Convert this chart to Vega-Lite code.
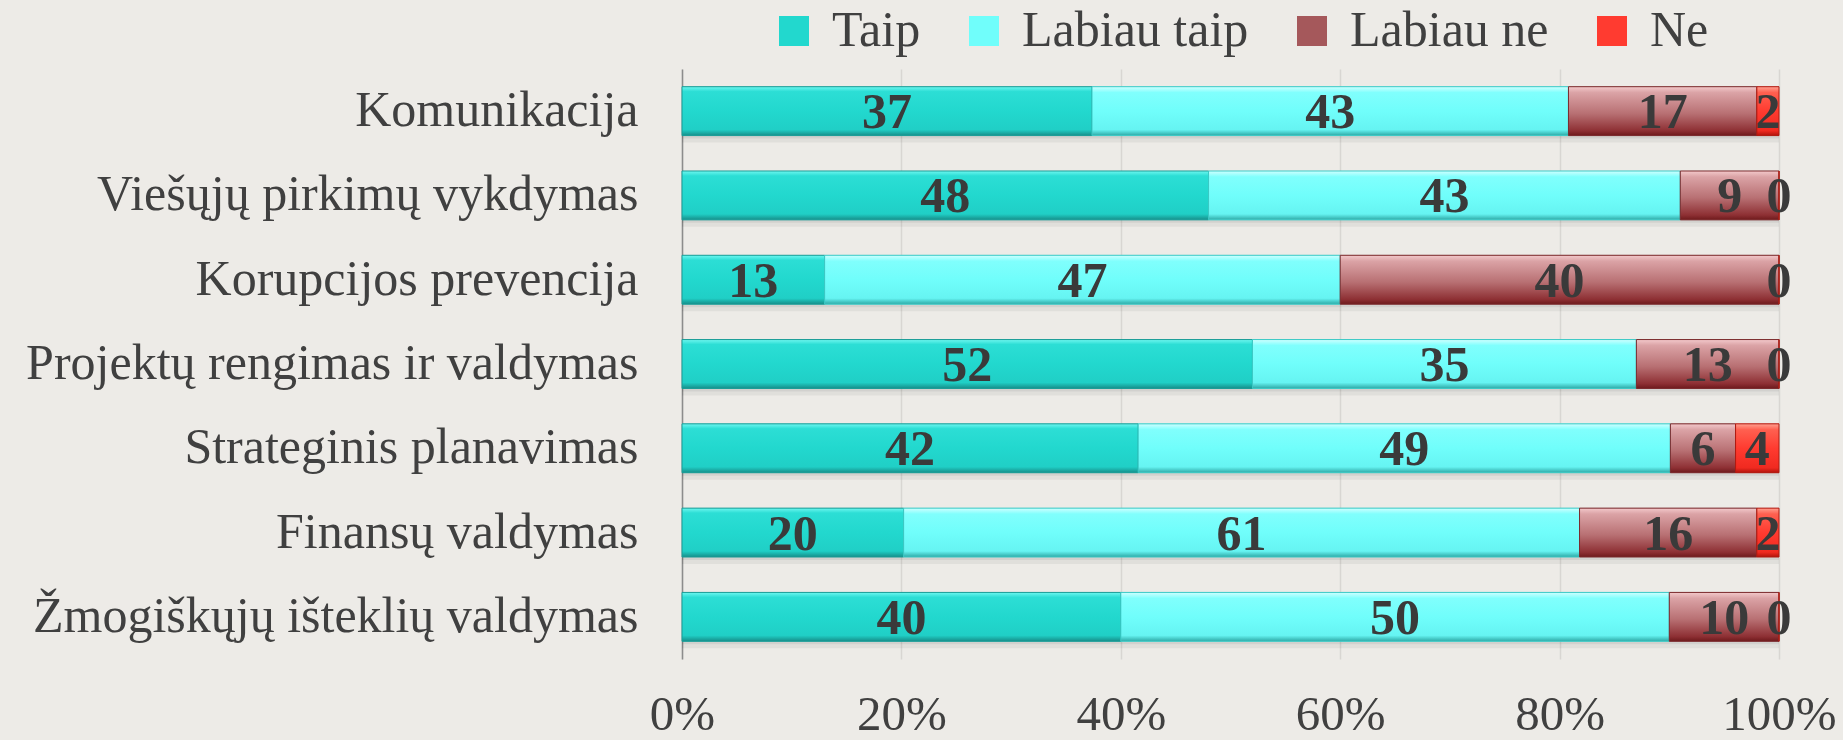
{
  "$schema": "https://vega.github.io/schema/vega-lite/v6.json",
  "width": 1097,
  "height": 590,
  "autosize": {"type": "none"},
  "padding": {"left": 682, "top": 69, "right": 64, "bottom": 81},
  "background": "#EDEBE7",
  "config": {"view": {"stroke": null}, "font": "Liberation Serif"},
  "data": {
    "values": [
      {"task": "Komunikacija", "c": "Taip", "k": 1, "v": 37},
      {"task": "Komunikacija", "c": "Labiau taip", "k": 2, "v": 43},
      {"task": "Komunikacija", "c": "Labiau ne", "k": 3, "v": 17},
      {"task": "Komunikacija", "c": "Ne", "k": 4, "v": 2},
      {"task": "Viešųjų pirkimų vykdymas", "c": "Taip", "k": 1, "v": 48},
      {"task": "Viešųjų pirkimų vykdymas", "c": "Labiau taip", "k": 2, "v": 43},
      {"task": "Viešųjų pirkimų vykdymas", "c": "Labiau ne", "k": 3, "v": 9},
      {"task": "Viešųjų pirkimų vykdymas", "c": "Ne", "k": 4, "v": 0},
      {"task": "Korupcijos prevencija", "c": "Taip", "k": 1, "v": 13},
      {"task": "Korupcijos prevencija", "c": "Labiau taip", "k": 2, "v": 47},
      {"task": "Korupcijos prevencija", "c": "Labiau ne", "k": 3, "v": 40},
      {"task": "Korupcijos prevencija", "c": "Ne", "k": 4, "v": 0},
      {"task": "Projektų rengimas ir valdymas", "c": "Taip", "k": 1, "v": 52},
      {"task": "Projektų rengimas ir valdymas", "c": "Labiau taip", "k": 2, "v": 35},
      {"task": "Projektų rengimas ir valdymas", "c": "Labiau ne", "k": 3, "v": 13},
      {"task": "Projektų rengimas ir valdymas", "c": "Ne", "k": 4, "v": 0},
      {"task": "Strateginis planavimas", "c": "Taip", "k": 1, "v": 42},
      {"task": "Strateginis planavimas", "c": "Labiau taip", "k": 2, "v": 49},
      {"task": "Strateginis planavimas", "c": "Labiau ne", "k": 3, "v": 6},
      {"task": "Strateginis planavimas", "c": "Ne", "k": 4, "v": 4},
      {"task": "Finansų valdymas", "c": "Taip", "k": 1, "v": 20},
      {"task": "Finansų valdymas", "c": "Labiau taip", "k": 2, "v": 61},
      {"task": "Finansų valdymas", "c": "Labiau ne", "k": 3, "v": 16},
      {"task": "Finansų valdymas", "c": "Ne", "k": 4, "v": 2},
      {"task": "Žmogiškųjų išteklių valdymas", "c": "Taip", "k": 1, "v": 40},
      {"task": "Žmogiškųjų išteklių valdymas", "c": "Labiau taip", "k": 2, "v": 50},
      {"task": "Žmogiškųjų išteklių valdymas", "c": "Labiau ne", "k": 3, "v": 10},
      {"task": "Žmogiškųjų išteklių valdymas", "c": "Ne", "k": 4, "v": 0}
    ]
  },
  "encoding": {
    "y": {
      "field": "task",
      "type": "nominal",
      "sort": null,
      "scale": {"paddingInner": 0.42, "paddingOuter": 0.21},
      "axis": {
        "title": null,
        "ticks": false,
        "labelFont": "Liberation Serif",
        "labelFontSize": 50,
        "labelColor": "#404040",
        "labelPadding": 44,
        "labelLimit": 0,
        "domainColor": "#8C8C8C",
        "domainWidth": 1.5
      }
    },
    "order": {"field": "k", "type": "quantitative"}
  },
  "layer": [
    {
      "mark": {"type": "bar", "fill": "#000000", "fillOpacity": 0.05, "yOffset": 7},
      "encoding": {
        "x": {
          "field": "v",
          "type": "quantitative",
          "stack": "normalize",
          "scale": {"domain": [0, 1]},
          "axis": {"title": null, "format": "%", "values": [0, 0.2, 0.4, 0.6, 0.8, 1], "grid": true, "gridColor": "#D8D6D2", "gridWidth": 1.5, "domain": false, "ticks": false, "labelFlush": false, "labelFont": "Liberation Serif", "labelFontSize": 49, "labelColor": "#404040", "labelPadding": 31}
        }
      }
    },
    {
      "mark": {"type": "bar", "fill": "#000000", "fillOpacity": 0.06, "yOffset": 3},
      "encoding": {
        "x": {
          "field": "v",
          "type": "quantitative",
          "stack": "normalize",
          "scale": {"domain": [0, 1]},
          "axis": {"title": null, "format": "%", "values": [0, 0.2, 0.4, 0.6, 0.8, 1], "grid": true, "gridColor": "#D8D6D2", "gridWidth": 1.5, "domain": false, "ticks": false, "labelFlush": false, "labelFont": "Liberation Serif", "labelFontSize": 49, "labelColor": "#404040", "labelPadding": 31}
        }
      }
    },
    {
      "mark": {"type": "bar"},
      "encoding": {
        "x": {
          "field": "v",
          "type": "quantitative",
          "stack": "normalize",
          "scale": {"domain": [0, 1]},
          "axis": {"title": null, "format": "%", "values": [0, 0.2, 0.4, 0.6, 0.8, 1], "grid": true, "gridColor": "#D8D6D2", "gridWidth": 1.5, "domain": false, "ticks": false, "labelFlush": false, "labelFont": "Liberation Serif", "labelFontSize": 49, "labelColor": "#404040", "labelPadding": 31}
        },
        "color": {
          "field": "c",
          "type": "nominal",
          "scale": {"domain": ["Taip", "Labiau taip", "Labiau ne", "Ne"], "range": ["#22D8CE", "#70FEFB", "#A5585B", "#FF3B30"]},
          "legend": {
            "orient": "none",
            "legendX": 87,
            "legendY": -63,
            "direction": "horizontal",
            "columns": 4,
            "title": null,
            "symbolType": "square",
            "symbolSize": 900,
            "symbolStrokeWidth": 0,
            "labelFont": "Liberation Serif",
            "labelFontSize": 50,
            "labelColor": "#404040",
            "labelOffset": 13,
            "labelLimit": 0,
            "columnPadding": 38,
            "padding": 0
          }
        }
      }
    },
    {
      "mark": {"type": "bar", "strokeWidth": 1},
      "encoding": {
        "x": {
          "field": "v",
          "type": "quantitative",
          "stack": "normalize",
          "scale": {"domain": [0, 1]},
          "axis": {"title": null, "format": "%", "values": [0, 0.2, 0.4, 0.6, 0.8, 1], "grid": true, "gridColor": "#D8D6D2", "gridWidth": 1.5, "domain": false, "ticks": false, "labelFlush": false, "labelFont": "Liberation Serif", "labelFontSize": 49, "labelColor": "#404040", "labelPadding": 31}
        },
        "fill": {
          "condition": [
            {"test": "datum.c === 'Taip'", "value": {"gradient": "linear", "x1": 0, "y1": 0, "x2": 0, "y2": 1, "stops": [{"offset": 0, "color": "#6EF7F0"}, {"offset": 0.1, "color": "#2CDED5"}, {"offset": 0.5, "color": "#22D8CE"}, {"offset": 0.88, "color": "#20CFC6"}, {"offset": 1, "color": "#168E89"}]}},
            {"test": "datum.c === 'Labiau taip'", "value": {"gradient": "linear", "x1": 0, "y1": 0, "x2": 0, "y2": 1, "stops": [{"offset": 0, "color": "#D0FFFF"}, {"offset": 0.12, "color": "#80FFFD"}, {"offset": 0.5, "color": "#70FEFB"}, {"offset": 0.88, "color": "#66F4F2"}, {"offset": 1, "color": "#2EA9A6"}]}},
            {"test": "datum.c === 'Labiau ne'", "value": {"gradient": "linear", "x1": 0, "y1": 0, "x2": 0, "y2": 1, "stops": [{"offset": 0, "color": "#F3C9CB"}, {"offset": 0.12, "color": "#DBA3A6"}, {"offset": 0.55, "color": "#B87073"}, {"offset": 0.9, "color": "#8E3034"}, {"offset": 1, "color": "#6E1A1C"}]}}
          ],
          "value": {"gradient": "linear", "x1": 0, "y1": 0, "x2": 0, "y2": 1, "stops": [{"offset": 0, "color": "#FFA090"}, {"offset": 0.12, "color": "#FF6050"}, {"offset": 0.5, "color": "#FF3B30"}, {"offset": 0.9, "color": "#F02A20"}, {"offset": 1, "color": "#B0140C"}]}
        },
        "stroke": {
          "condition": [
            {"test": "datum.c === 'Taip'", "value": "#1A9C96"},
            {"test": "datum.c === 'Labiau taip'", "value": "#3BC9C5"},
            {"test": "datum.c === 'Labiau ne'", "value": "#7A2A2D"}
          ],
          "value": "#B01A10"
        }
      }
    },
    {
      "mark": {"type": "text", "fontWeight": "bold", "fontSize": 50, "font": "Liberation Serif", "color": "#3A3A3A", "align": "center", "baseline": "middle", "dy": 2},
      "encoding": {
        "x": {
          "field": "v",
          "type": "quantitative",
          "stack": "normalize",
          "bandPosition": 0.5,
          "scale": {"domain": [0, 1]},
          "axis": {"title": null, "format": "%", "values": [0, 0.2, 0.4, 0.6, 0.8, 1], "grid": true, "gridColor": "#D8D6D2", "gridWidth": 1.5, "domain": false, "ticks": false, "labelFlush": false, "labelFont": "Liberation Serif", "labelFontSize": 49, "labelColor": "#404040", "labelPadding": 31}
        },
        "text": {"field": "v", "type": "quantitative"}
      }
    }
  ]
}
